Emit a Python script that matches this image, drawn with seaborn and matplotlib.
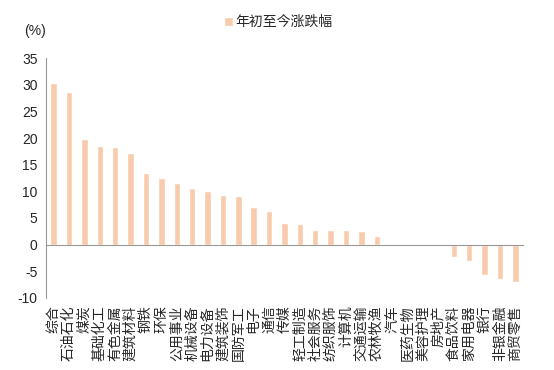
import numpy as np
import matplotlib
matplotlib.use("Agg")
import matplotlib.pyplot as plt
import seaborn as sns

industries = ["综合", "石油石化", "煤炭", "基础化工", "有色金属", "建筑材料", "钢铁", "环保",
              "公用事业", "机械设备", "电力设备", "建筑装饰", "国防军工", "电子", "通信", "传媒",
              "轻工制造", "社会服务", "纺织服饰", "计算机", "交通运输", "农林牧渔", "汽车",
              "医药生物", "美容护理", "房地产", "食品饮料", "家用电器", "银行", "非银金融", "商贸零售"]
ytd_change = [30.3, 28.7, 19.8, 18.5, 18.3, 17.1, 13.5, 12.5,
              11.5, 10.7, 10.0, 9.3, 9.1, 7.0, 6.3, 4.1,
              3.9, 2.8, 2.75, 2.7, 2.5, 1.6, 0.0,
              0.0, 0.0, 0.0, -2.4, -3.1, -5.8, -6.5, -7.0]
y_ticks = [-10, -5, 0, 5, 10, 15, 20, 25, 30, 35]
series_name = "年初至今涨跌幅"

sns.set_style("white")
plt.rcParams['font.family'] = ['Liberation Sans', 'Noto Sans CJK SC', 'DejaVu Sans']
plt.rcParams['axes.unicode_minus'] = False

fig = plt.figure(figsize=(5.54, 3.70), dpi=100)
ax = fig.add_axes([0.083, 0.195, 0.861, 0.648])

sns.barplot(x=industries, y=ytd_change, color="#F8CBAD", saturation=1, width=0.42,
            label=series_name, ax=ax)

ax.set_ylim(-10, 35)
ax.set_xlim(-0.5, len(industries) - 0.5)
ax.set_yticks(y_ticks)
ax.set_yticklabels([str(t) for t in y_ticks], fontsize=10)
ax.tick_params(axis='y', length=0, pad=6)

# x axis drawn at zero, tick marks between categories
ax.spines['bottom'].set_position(('data', 0))
ax.spines['bottom'].set_color('#999999')
ax.spines['left'].set_color('#999999')
ax.spines['top'].set_visible(False)
ax.spines['right'].set_visible(False)
ax.set_xticks(np.arange(len(industries)))
ax.set_xticklabels(industries, rotation=90, fontsize=10, va='top', ha='center')
ax.set_xticks(np.arange(len(industries) + 1) - 0.5, minor=True)
ax.tick_params(axis='x', which='major', length=0, pad=44)
ax.tick_params(axis='x', which='minor', length=4, color='#999999', direction='out')
ax.set_xlabel("")
ax.set_ylabel("")

fig.text(0.043, 0.915, "(%)", fontsize=10, ha='left', va='center')

ax.legend(loc='center left', bbox_to_anchor=(0.405, 0.94), bbox_transform=fig.transFigure,
          frameon=False, fontsize=10, handlelength=0.6, handleheight=0.6,
          handletextpad=0.2, borderpad=0, borderaxespad=0)

fig.savefig("out.png", dpi=100)
